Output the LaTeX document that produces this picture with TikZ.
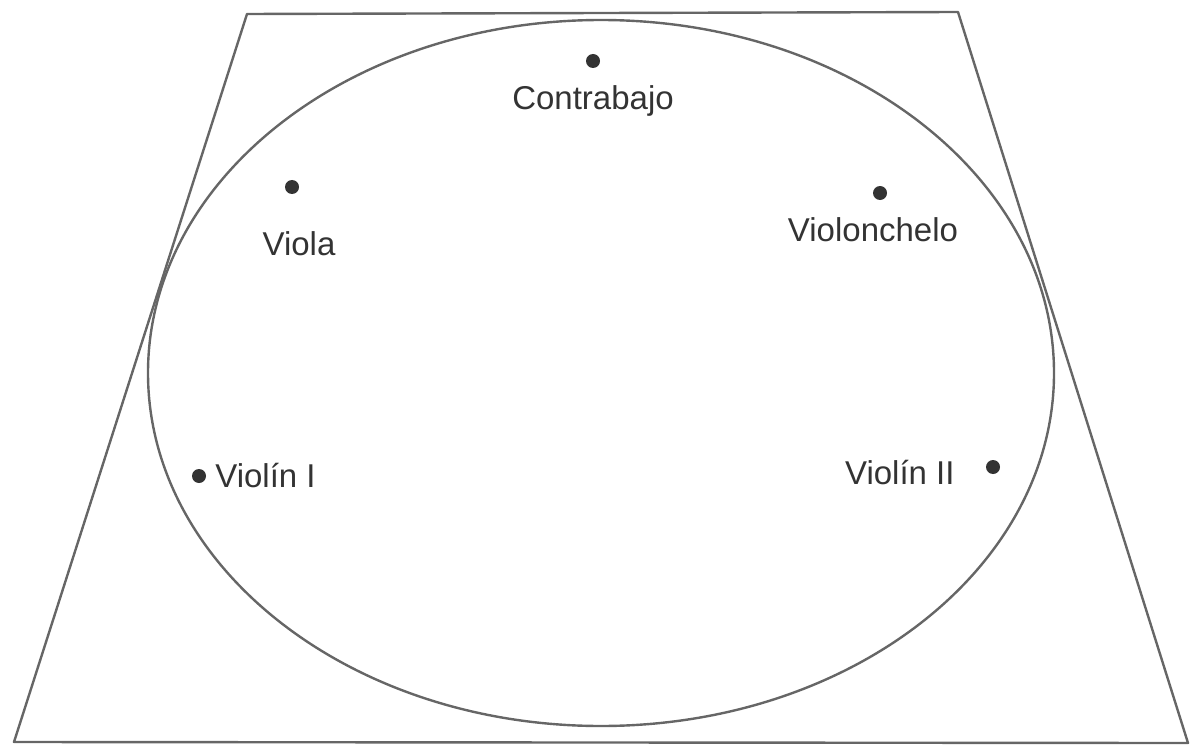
\documentclass[tikz,border=0pt]{standalone}
\usepackage{fontspec}
\setmainfont{Liberation Sans}
\usetikzlibrary{positioning}

\begin{document}
\begin{tikzpicture}[x=1pt, y=-1pt, line width=2.4pt,
						stage/.style={draw=black!60, line join=round},
						dot/.style={circle, fill=black!80, inner sep=0pt, minimum size=14pt},
						lbl/.style={inner sep=1pt, text=black!80, font=\fontsize{33}{37}\selectfont}]
						
						\useasboundingbox (0,0) rectangle (1190,746);
						\draw[stage] (247,14) -- (958,12) -- (1188,743) -- (14,742) -- cycle;
						\draw[stage] (601,373) ellipse [x radius=453, y radius=353];
						
						\node[dot] (contrabajo) at (593,61) {};
						\node[dot] (viola) at (292,187) {};
						\node[dot] (cello) at (880,193) {};
						\node[dot] (violin1) at (199,476) {};
						\node[dot] (violin2) at (993,467) {};
						
						\node[lbl, below=14pt of contrabajo] (contrabajotxt) {Contrabajo};
						\node[lbl, below=34pt of viola, xshift=7pt] (violatxt) {Viola};
						\node[lbl, below=14pt of cello, xshift=-7pt] (cellotxt) {Violonchelo};
						\node[lbl, right=6pt of violin1] (violin1txt) {Violín I};
						\node[lbl, left=28pt of violin2, yshift=-6pt] (violin2txt) {Violín II};
					\end{tikzpicture}
\end{document}
